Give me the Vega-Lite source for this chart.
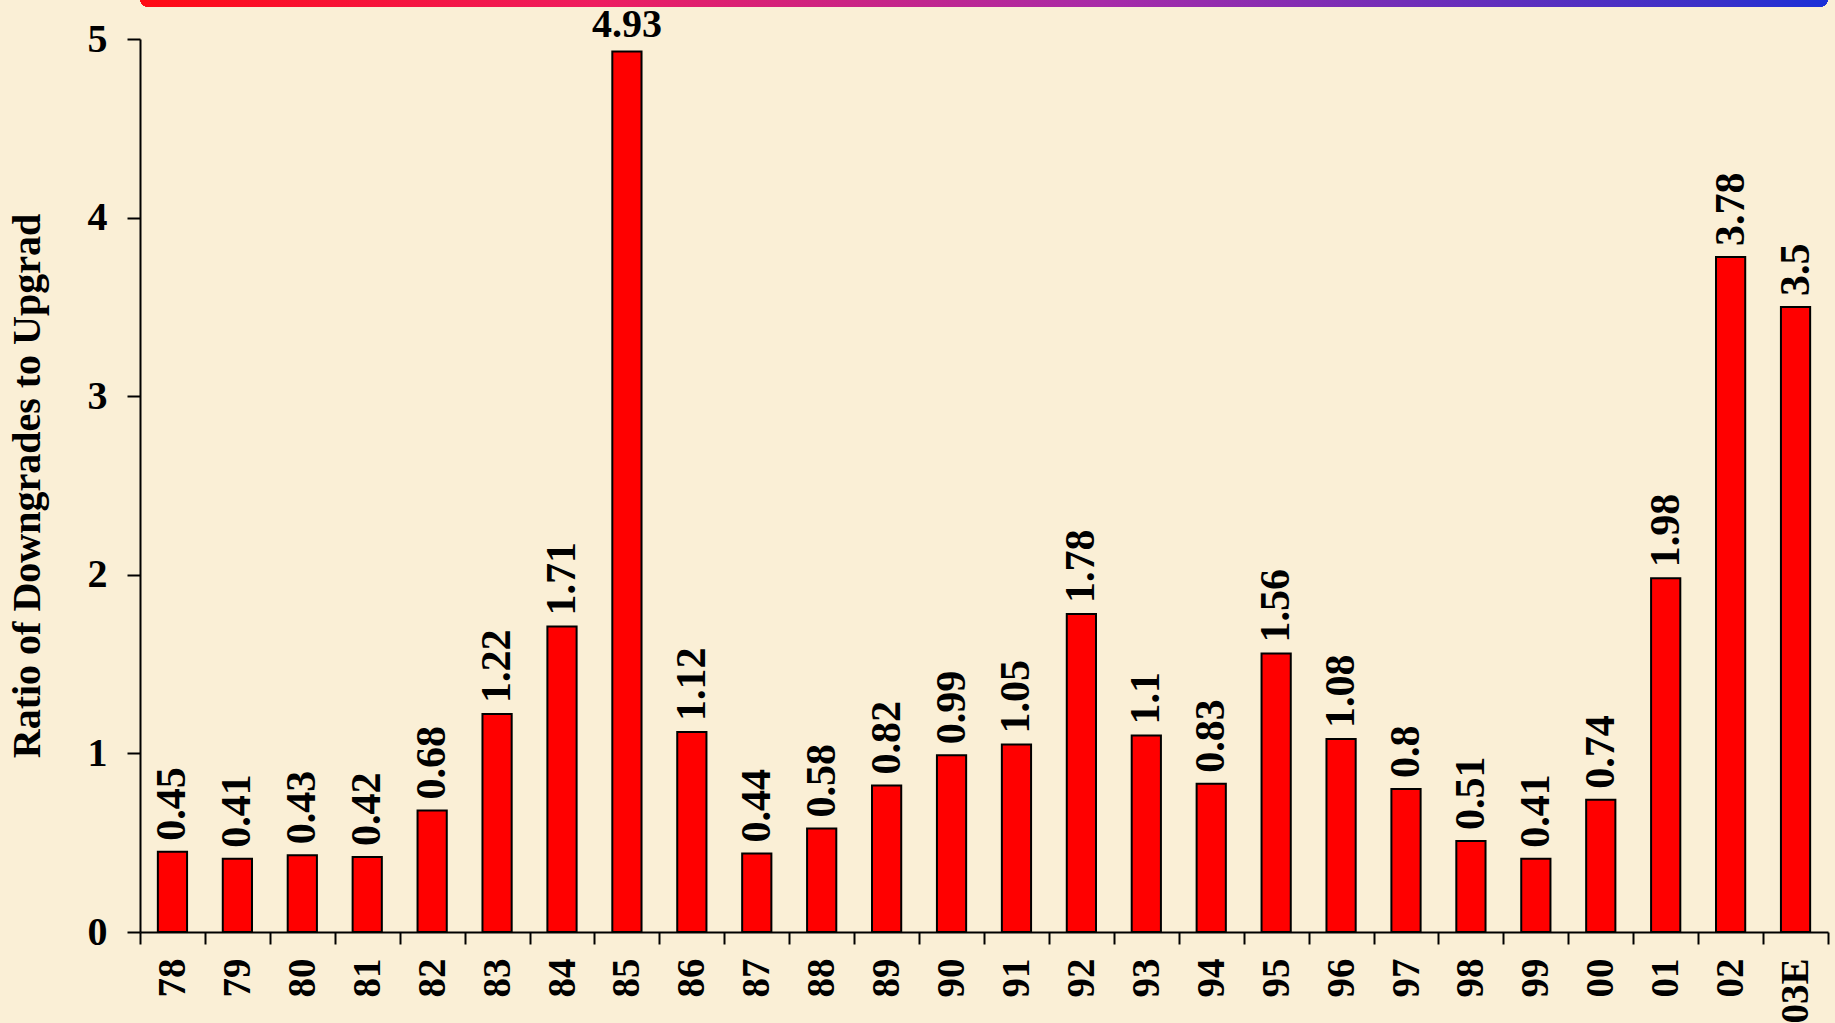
{
  "$schema": "https://vega.github.io/schema/vega-lite/v6.json",
  "autosize": "none",
  "width": 1688,
  "height": 893,
  "padding": {"left": 140, "top": 39, "right": 7, "bottom": 91},
  "background": "#faefd6",
  "config": {
    "view": {"stroke": null},
    "font": "Liberation Serif",
    "axis": {"labelFont": "Liberation Serif", "titleFont": "Liberation Serif", "labelFontWeight": "bold", "titleFontWeight": "bold", "labelColor": "#000000", "titleColor": "#000000", "domainColor": "#000000", "tickColor": "#000000", "domainWidth": 2, "tickWidth": 2, "grid": false}
  },
  "data": {
    "values": [
      {"year": "78", "ratio": 0.45},
      {"year": "79", "ratio": 0.41},
      {"year": "80", "ratio": 0.43},
      {"year": "81", "ratio": 0.42},
      {"year": "82", "ratio": 0.68},
      {"year": "83", "ratio": 1.22},
      {"year": "84", "ratio": 1.71},
      {"year": "85", "ratio": 4.93},
      {"year": "86", "ratio": 1.12},
      {"year": "87", "ratio": 0.44},
      {"year": "88", "ratio": 0.58},
      {"year": "89", "ratio": 0.82},
      {"year": "90", "ratio": 0.99},
      {"year": "91", "ratio": 1.05},
      {"year": "92", "ratio": 1.78},
      {"year": "93", "ratio": 1.1},
      {"year": "94", "ratio": 0.83},
      {"year": "95", "ratio": 1.56},
      {"year": "96", "ratio": 1.08},
      {"year": "97", "ratio": 0.8},
      {"year": "98", "ratio": 0.51},
      {"year": "99", "ratio": 0.41},
      {"year": "00", "ratio": 0.74},
      {"year": "01", "ratio": 1.98},
      {"year": "02", "ratio": 3.78},
      {"year": "03E", "ratio": 3.5}
    ]
  },
  "encoding": {
    "x": {
      "field": "year", "type": "nominal", "sort": null,
      "scale": {"paddingInner": 0, "paddingOuter": 0},
      "axis": {"title": null, "labelAngle": 270, "labelFontSize": 39, "tickBand": "extent", "tickSize": 12, "labelPadding": 14}
    },
    "y": {
      "field": "ratio", "type": "quantitative",
      "scale": {"domain": [0, 5], "nice": false},
      "axis": {"title": "Ratio of Downgrades to Upgrad", "titleFontSize": 40, "labelFontSize": 40, "values": [0, 1, 2, 3, 4, 5], "tickSize": 13, "labelPadding": 20, "titlePadding": 40}
    }
  },
  "layer": [
    {
      "mark": {"type": "bar", "width": {"band": 0.45}, "color": "#ff0000", "stroke": "#000000", "strokeWidth": 2}
    },
    {
      "transform": [{"filter": "datum.year != '85'"}],
      "mark": {"type": "text", "angle": 270, "align": "left", "baseline": "middle", "dx": 11, "fontSize": 42, "fontWeight": "bold", "font": "Liberation Serif", "color": "#000000"},
      "encoding": {"text": {"field": "ratio", "type": "quantitative"}}
    },
    {
      "transform": [{"filter": "datum.year == '85'"}],
      "mark": {"type": "text", "align": "center", "baseline": "alphabetic", "dy": -15, "fontSize": 40, "fontWeight": "bold", "font": "Liberation Serif", "color": "#000000"},
      "encoding": {"text": {"field": "ratio", "type": "quantitative"}}
    },
    {
      "mark": {"type": "rect", "cornerRadius": 9, "clip": false, "fill": {"gradient": "linear", "x1": 0, "y1": 0, "x2": 1, "y2": 0, "stops": [{"offset": 0, "color": "#ff0a14"}, {"offset": 0.27, "color": "#ee1c60"}, {"offset": 0.57, "color": "#a82aa8"}, {"offset": 0.93, "color": "#3a30c8"}, {"offset": 1, "color": "#1a30d8"}]}},
      "encoding": {"x": null, "y": {"datum": 5.18}, "y2": {"datum": 5.3}}
    }
  ]
}
